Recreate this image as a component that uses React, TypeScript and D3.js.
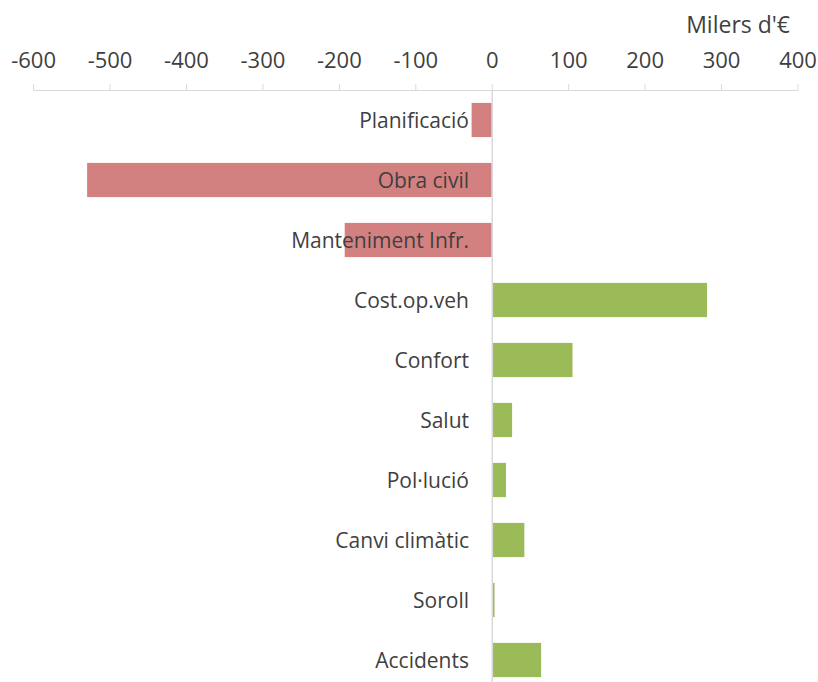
import React from "react";
import * as d3 from "d3";

const categories = [
  "Planificació",
  "Obra civil",
  "Manteniment Infr.",
  "Cost.op.veh",
  "Confort",
  "Salut",
  "Pol·lució",
  "Canvi climàtic",
  "Soroll",
  "Accidents",
];
const values = [-27, -530, -193, 281, 105, 26, 18, 42, 3, 64];
const tickValues = [-600, -500, -400, -300, -200, -100, 0, 100, 200, 300, 400];
const unitLabel = "Milers d'€";

const W = 818;
const H = 682;
const FONT = "'Open Sans', 'Noto Sans', sans-serif";

export default function App() {
  const x = d3.scaleLinear().domain([-600, 400]).range([33.6, 798]);
  const y = d3.scaleBand<string>().domain(categories).range([90, 690]).paddingInner(0.43).paddingOuter(0.215);
  const neg = "#D38180";
  const pos = "#9BBB59";
  const grid = "#D9D9D9";
  const txt = "#3F3F3F";
  return (
    <svg width={W} height={H} style={{ position: "absolute", left: 0, top: 0, background: "#fff" }}>
      <text x={790} y={32.5} textAnchor="end" fontFamily={FONT} fontSize={23} fill={txt}>
        {unitLabel}
      </text>
      {tickValues.map((t) => (
        <g key={t}>
          <text x={x(t)} y={68} textAnchor="middle" fontFamily={FONT} fontSize={22} fill={txt}>
            {t}
          </text>
          <line x1={x(t)} x2={x(t)} y1={84} y2={90.5} stroke={grid} strokeWidth={1} />
        </g>
      ))}
      <line x1={x(-600)} x2={x(400)} y1={90.5} y2={90.5} stroke={grid} strokeWidth={1} />
      <line x1={x(0)} x2={x(0)} y1={90} y2={H} stroke={grid} strokeWidth={1.5} />
      {categories.map((c, i) => {
        const v = values[i];
        const x0 = v < 0 ? x(v) : x(0) + 0.8;
        const w = v < 0 ? x(0) - 0.8 - x(v) : x(v) - x(0) - 0.8;
        return (
          <rect
            key={c}
            x={x0}
            y={y(c)}
            width={Math.max(w, 1)}
            height={y.bandwidth()}
            fill={v < 0 ? neg : pos}
          />
        );
      })}
      {categories.map((c) => (
        <text
          key={c}
          x={469}
          y={(y(c) as number) + y.bandwidth() / 2 + 0.5}
          dy="0.35em"
          textAnchor="end"
          fontFamily={FONT}
          fontSize={21}
          fill={txt}
        >
          {c}
        </text>
      ))}
    </svg>
  );
}
